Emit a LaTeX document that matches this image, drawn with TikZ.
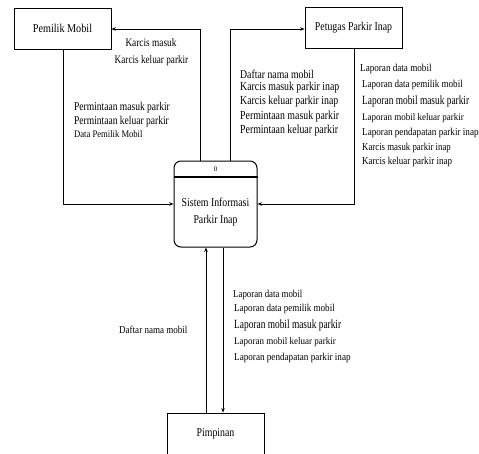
\documentclass[tikz,border=0pt]{standalone}
\usepackage{fontspec}
\setmainfont{Liberation Serif}
\usetikzlibrary{arrows.meta}
\newcommand{\cnd}[3]{\scalebox{#1}[1]{\fontsize{#2}{#2}\selectfont #3}}
\begin{document}
\begin{tikzpicture}[x=1pt,y=-1pt,
  ent/.style={draw,line width=0.8pt,minimum width=97pt,minimum height=41pt,inner sep=0pt},
  proc/.style={draw,line width=1pt,rounded corners=7pt,minimum width=83pt,minimum height=86pt,inner sep=0pt},
  flow/.style={line width=0.7pt,-{Stealth[length=4.5pt,width=3.5pt]}},
  lbl/.style={inner sep=0pt,anchor=west},
  lblc/.style={inner sep=0pt}]
\useasboundingbox (0,0) rectangle (479,453);
\fill[white] (0,0) rectangle (479,453);
\begin{scope}
\clip (0,0) rectangle (479,453);
% entities
\node[ent] (pemilik) at (62.5,28.5) {\cnd{0.85}{12}{Pemilik Mobil}};
\node[ent] (petugas) at (353.5,28) {\cnd{0.82}{12}{Petugas Parkir Inap}};
\node[ent,minimum height=42pt] (pimpinan) at (215.5,434) {\cnd{0.82}{12}{Pimpinan}};
% process
\node[proc] (sis) at (215.5,204) {};
\draw[line width=1.2pt] (sis.west |- 0,177) -- (sis.east |- 0,177);
\node[font=\fontsize{7}{8}\selectfont,inner sep=0pt] (num) at (215.5,169) {0};
\node[align=center,font=\fontsize{12}{17}\selectfont,inner sep=0pt] (sistxt) at (215.5,212.5) {\scalebox{0.82}[1]{Sistem Informasi}\\\scalebox{0.82}[1]{Parkir Inap}};
% connectors
\draw[flow] (sis.north -| 200,0) |- (pemilik.east |- 0,29);
\draw[flow] (sis.north -| 230,0) |- (petugas.west |- 0,29);
\draw[flow] (pemilik.south -| 63,0) |- (sis.west |- 0,204);
\draw[flow] (petugas.south -| 354,0) |- (sis.east |- 0,204);
\draw[flow] (pimpinan.north -| 206,0) -- (sis.south -| 206,0);
\draw[flow] (sis.south -| 223,0) -- (pimpinan.north -| 223,0);
\end{scope}
% labels: to Pemilik
\node[lblc] (l1) at (151,43) {\cnd{0.81}{11.5}{Karcis masuk}};
\node[lblc] (l2) at (151.5,61) {\cnd{0.8}{11.5}{Karcis keluar parkir}};
% from Pemilik
\node[lbl] (l3) at (74,108) {\cnd{0.8}{11.9}{Permintaan masuk parkir}};
\node[lbl] (l4) at (74,121.5) {\cnd{0.8}{11.9}{Permintaan keluar parkir}};
\node[lbl] (l5) at (74,134.5) {\cnd{0.86}{10}{Data Pemilik Mobil}};
% to Petugas
\node[lbl] (l6) at (240,74.5) {\cnd{0.82}{11.9}{Daftar nama mobil}};
\node[lbl] (l7) at (240,88) {\cnd{0.8}{12.3}{Karcis masuk parkir inap}};
\node[lbl] (l8) at (240,101.5) {\cnd{0.8}{12.3}{Karcis keluar parkir inap}};
\node[lbl] (l9) at (240,117) {\cnd{0.8}{12.3}{Permintaan masuk parkir}};
\node[lbl] (l10) at (240,131) {\cnd{0.8}{12.3}{Permintaan keluar parkir}};
% from Petugas
\node[lbl] (r1) at (360,69) {\cnd{0.86}{10.6}{Laporan data mobil}};
\node[lbl] (r2) at (362,85) {\cnd{0.86}{10.5}{Laporan data pemilik mobil}};
\node[lbl] (r3) at (362,101) {\cnd{0.75}{12.5}{Laporan mobil masuk parkir}};
\node[lbl] (r4) at (362,118) {\cnd{0.9}{10}{Laporan mobil keluar parkir}};
\node[lbl] (r5) at (362,133) {\cnd{0.87}{10.5}{Laporan pendapatan parkir inap}};
\node[lbl] (r6) at (362,147.5) {\cnd{0.83}{10.6}{Karcis masuk parkir inap}};
\node[lbl] (r7) at (362,162) {\cnd{0.85}{10.6}{Karcis keluar parkir inap}};
% Pimpinan
\node[lbl] (b0) at (119,330) {\cnd{0.86}{10.5}{Daftar nama mobil}};
\node[lbl] (b1) at (233,295) {\cnd{0.84}{10.5}{Laporan data mobil}};
\node[lbl] (b2) at (234,309) {\cnd{0.86}{10.5}{Laporan data pemilik mobil}};
\node[lbl] (b3) at (234,325) {\cnd{0.75}{12.5}{Laporan mobil masuk parkir}};
\node[lbl] (b4) at (234,342) {\cnd{0.9}{10}{Laporan mobil keluar parkir}};
\node[lbl] (b5) at (234,357.5) {\cnd{0.87}{10.5}{Laporan pendapatan parkir inap}};
\end{tikzpicture}
\end{document}
